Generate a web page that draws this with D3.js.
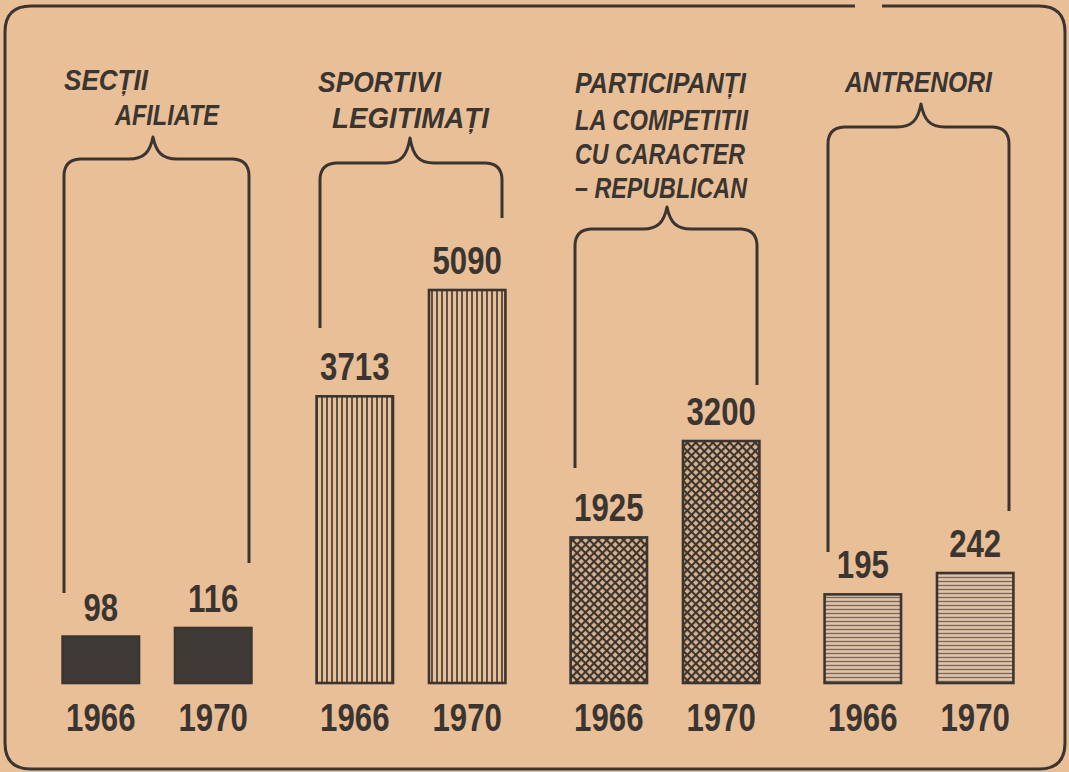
<!DOCTYPE html>
<html><head><meta charset="utf-8">
<script src="https://cdn.jsdelivr.net/npm/d3@7"></script>
<style>
html,body{margin:0;padding:0;background:#e9bf98;}
svg{display:block;}
</style></head>
<body>
<svg id="chart" width="1069" height="772"></svg>
<script>
// ---- data ----
const groups = ["Secții afiliate", "Sportivi legitimați", "Participanți la competiții", "Antrenori"];
const titleLines = [
  ["SECȚII", "AFILIATE"],
  ["SPORTIVI", "LEGITIMAȚI"],
  ["PARTICIPANȚI", "LA COMPETITII", "CU CARACTER", "– REPUBLICAN"],
  ["ANTRENORI"]
];
const years = ["1966", "1970"];
const values1966 = [98, 3713, 1925, 195];
const values1970 = [116, 5090, 3200, 242];

// ---- layout / style ----
const W = 1069, H = 772;
const ink = "#3b3531";
const paper = "#e9bf98";
const baseY = 683;
const tallTop = [628, 290, 441, 573];      // pixel top of the tallest bar in each group (per-group scale)
const titleLayout = [
  {x: [64, 115], y: [90, 125], w: [84, 104]},
  {x: [318, 332], y: [92, 128], w: [123, 157]},
  {x: [575, 575, 575, 575], y: [93, 130, 164, 198], w: [171, 173, 170, 172]},
  {x: [845], y: [92], w: [147]}
];
const braces = [
  {L: 64, R: 249, top: 160, tipX: 153, tipY: 137, lb: 593, rb: 563},
  {L: 320, R: 502, top: 164, tipX: 410, tipY: 138, lb: 328, rb: 218},
  {L: 575, R: 757, top: 230, tipX: 667, tipY: 207, lb: 468, rb: 385},
  {L: 828, R: 1009, top: 128, tipX: 921, tipY: 104, lb: 552, rb: 511}
];

const svg = d3.select("#chart");
svg.append("rect").attr("width", W).attr("height", H).attr("fill", paper);

// patterns
const defs = svg.append("defs");
const pv = defs.append("pattern").attr("id", "pv").attr("patternUnits", "userSpaceOnUse")
  .attr("width", 5).attr("height", 10);
pv.append("rect").attr("width", 5).attr("height", 10).attr("fill", paper);
pv.append("line").attr("x1", 2).attr("x2", 2).attr("y1", 0).attr("y2", 10)
  .attr("stroke", ink).attr("stroke-width", 1.6);

const pc = defs.append("pattern").attr("id", "pc").attr("patternUnits", "userSpaceOnUse")
  .attr("width", 6).attr("height", 6).attr("patternTransform", "rotate(45)");
pc.append("rect").attr("width", 6).attr("height", 6).attr("fill", "#d9b08c");
pc.append("line").attr("x1", 0).attr("x2", 6).attr("y1", 1).attr("y2", 1).attr("stroke", ink).attr("stroke-width", 2.2);
pc.append("line").attr("x1", 1).attr("x2", 1).attr("y1", 0).attr("y2", 6).attr("stroke", ink).attr("stroke-width", 2.2);

const ph = defs.append("pattern").attr("id", "ph").attr("patternUnits", "userSpaceOnUse")
  .attr("width", 10).attr("height", 4);
ph.append("rect").attr("width", 10).attr("height", 4).attr("fill", "#e3c4a6");
ph.append("line").attr("x1", 0).attr("x2", 10).attr("y1", 1.5).attr("y2", 1.5)
  .attr("stroke", "#7a6a5e").attr("stroke-width", 1.4);

const fills = ["#403a36", "url(#pv)", "url(#pc)", "url(#ph)"];

// border frame with small gap at top
const r = 26, x0 = 5, x1 = 1065, y0 = 6, y1 = 769;
svg.append("path")
  .attr("d", `M855,${y0} H${x0 + r} Q${x0},${y0} ${x0},${y0 + r} V${y1 - r} Q${x0},${y1} ${x0 + r},${y1} H${x1 - r} Q${x1},${y1} ${x1},${y1 - r} V${y0 + r} Q${x1},${y0} ${x1 - r},${y0} H882`)
  .attr("fill", "none").attr("stroke", ink).attr("stroke-width", 3);

// scales
const xGroup = d3.scaleBand().domain(groups).range([30, 1046]).padding(0);
const xYear = d3.scaleBand().domain(years).range([0, xGroup.bandwidth()])
  .paddingInner(0.32).paddingOuter(0.29);
const yScales = groups.map((g, i) => d3.scaleLinear()
  .domain([0, Math.max(values1966[i], values1970[i])])
  .range([baseY, tallTop[i]]));

const rows = [];
groups.forEach((g, i) => {
  rows.push({g, i, year: years[0], v: values1966[i]});
  rows.push({g, i, year: years[1], v: values1970[i]});
});

// braces
svg.append("g").selectAll("path").data(braces).join("path")
  .attr("d", b => {
    const rr = 16;
    return `M${b.L},${b.lb} V${b.top + rr} Q${b.L},${b.top} ${b.L + rr},${b.top - 1}` +
      ` H${b.tipX - 24} C${b.tipX - 9},${b.top - 1} ${b.tipX - 3},${b.top - 8} ${b.tipX},${b.tipY}` +
      ` C${b.tipX + 3},${b.top - 8} ${b.tipX + 9},${b.top - 1} ${b.tipX + 24},${b.top - 1}` +
      ` H${b.R - rr} Q${b.R},${b.top} ${b.R},${b.top + rr} V${b.rb}`;
  })
  .attr("fill", "none").attr("stroke", ink).attr("stroke-width", 3).attr("stroke-linejoin", "round");

// titles
const tg = svg.append("g");
titleLines.forEach((lines, i) => {
  lines.forEach((t, j) => {
    tg.append("text")
      .attr("x", titleLayout[i].x[j]).attr("y", titleLayout[i].y[j])
      .attr("textLength", titleLayout[i].w[j]).attr("lengthAdjust", "spacingAndGlyphs")
      .attr("font-family", "'Liberation Sans', Arial, sans-serif")
      .attr("font-weight", "bold").attr("font-style", "italic")
      .attr("font-size", 30).attr("fill", ink)
      .text(t);
  });
});

// bars
svg.append("g").selectAll("rect").data(rows).join("rect")
  .attr("x", d => xGroup(d.g) + xYear(d.year))
  .attr("width", xYear.bandwidth())
  .attr("y", d => yScales[d.i](d.v))
  .attr("height", d => baseY - yScales[d.i](d.v))
  .attr("fill", d => fills[d.i])
  .attr("stroke", ink).attr("stroke-width", 2.6);

// value labels
svg.append("g").selectAll("text").data(rows).join("text")
  .attr("transform", d => `translate(${xGroup(d.g) + xYear(d.year) + xYear.bandwidth() / 2},${yScales[d.i](d.v) - 16}) scale(0.8,1)`)
  .attr("text-anchor", "middle")
  .attr("font-family", "'Liberation Sans', Arial, sans-serif")
  .attr("font-weight", "bold").attr("font-size", 39).attr("fill", ink)
  .text(d => d.v);

// year labels (axis)
groups.forEach((g, i) => {
  const axis = d3.axisBottom(xYear).tickSize(0).tickPadding(0);
  const ag = svg.append("g").attr("transform", `translate(${xGroup(g)},${baseY})`).call(axis);
  ag.select(".domain").remove();
  ag.selectAll("text")
    .attr("y", 0).attr("dy", 0)
    .attr("transform", "translate(0,48) scale(0.8,1)")
    .attr("font-family", "'Liberation Sans', Arial, sans-serif")
    .attr("font-weight", "bold").attr("font-size", 39).attr("fill", ink);
});
</script>
</body></html>
